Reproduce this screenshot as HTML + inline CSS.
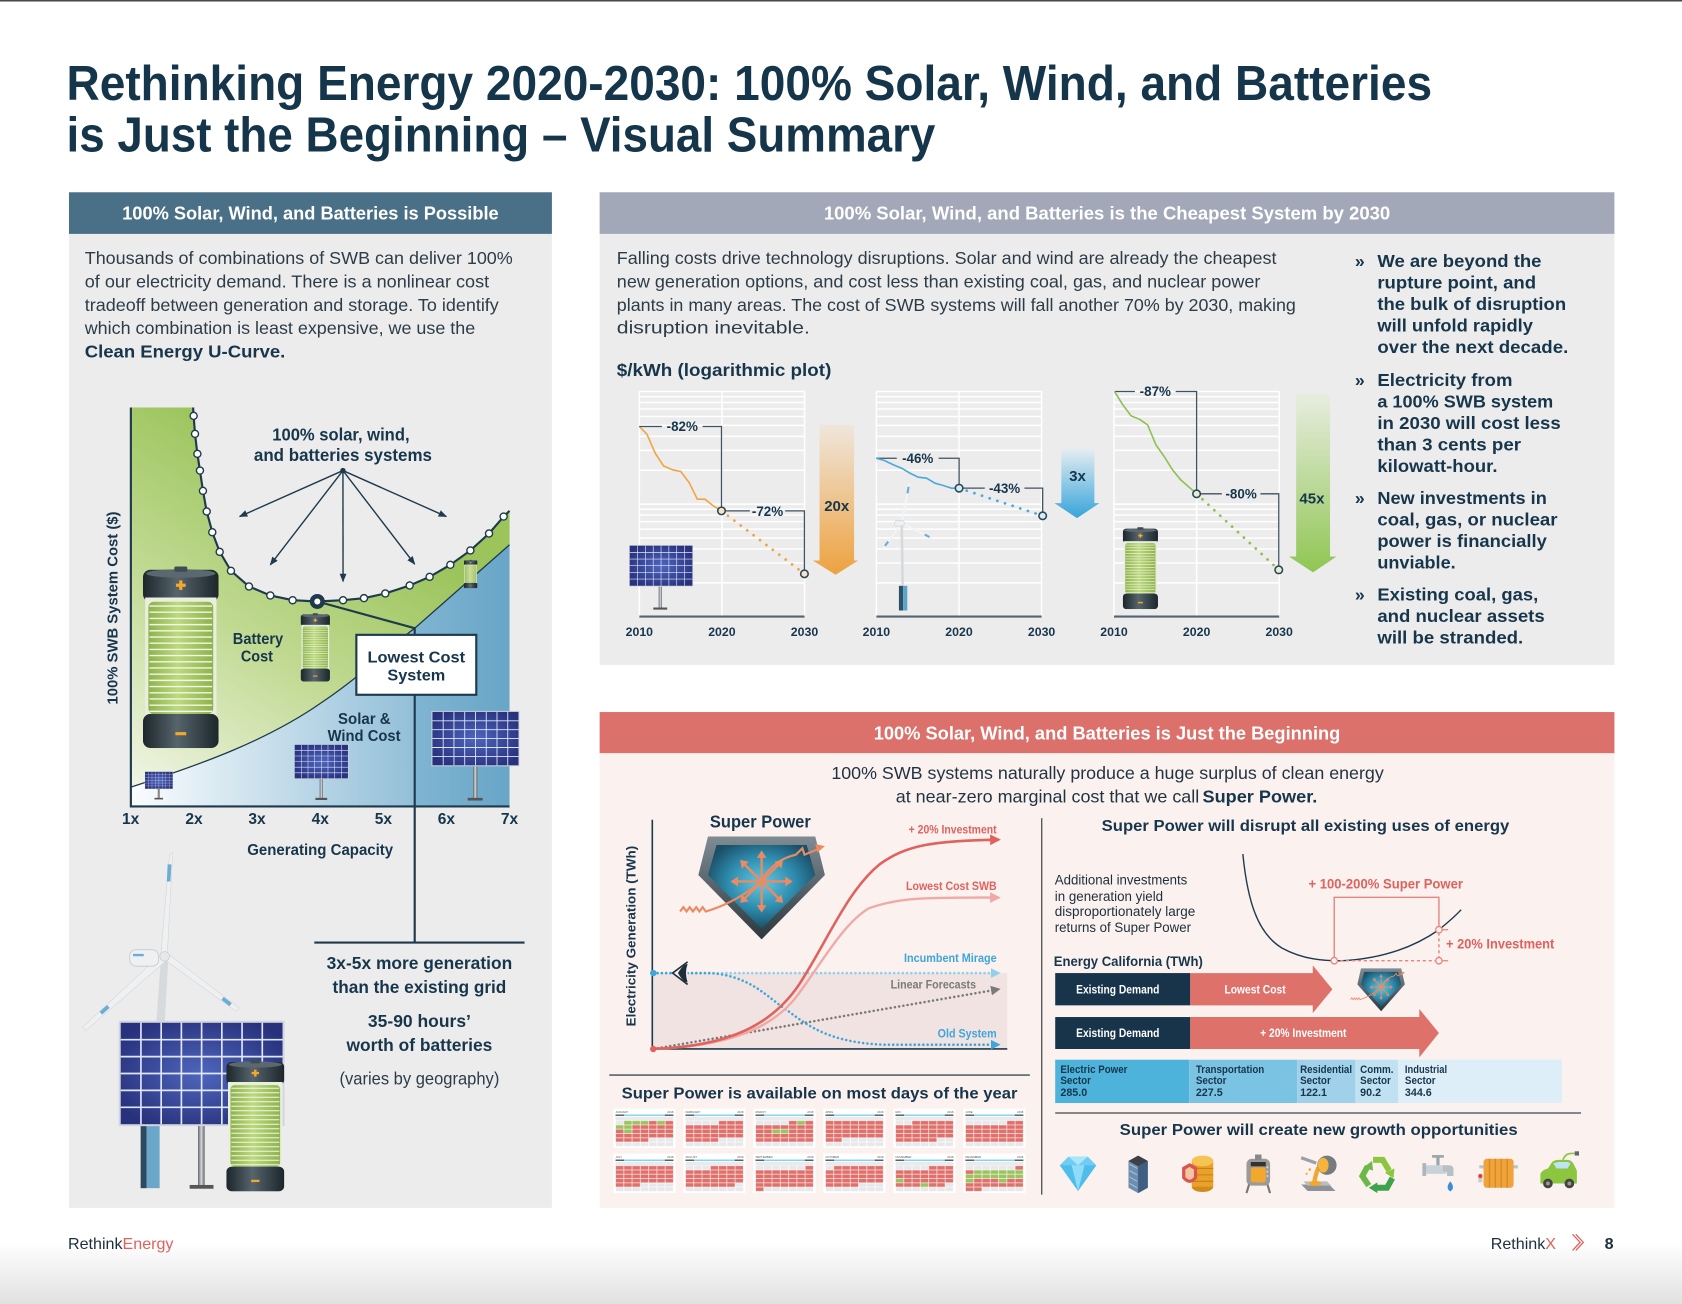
<!DOCTYPE html>
<html><head><meta charset="utf-8">
<style>
html,body{margin:0;padding:0;background:#fff;}
svg{display:block;}
text{font-family:"Liberation Sans",Arial,sans-serif;}
</style></head><body>
<svg width="1682" height="1304" viewBox="0 0 1568 1216" preserveAspectRatio="none" xmlns="http://www.w3.org/2000/svg" xmlns:xlink="http://www.w3.org/1999/xlink">
<defs>
<linearGradient id="footG" x1="0" y1="0" x2="0" y2="1"><stop offset="0" stop-color="#ffffff"/><stop offset="1" stop-color="#e1e1e1"/></linearGradient>
<linearGradient id="greenG" gradientUnits="userSpaceOnUse" x1="150" y1="752" x2="330" y2="470"><stop offset="0" stop-color="#f1f5e6"/><stop offset="0.5" stop-color="#c3db96"/><stop offset="1" stop-color="#9bc45b"/></linearGradient>
<linearGradient id="blueL" gradientUnits="userSpaceOnUse" x1="122" y1="0" x2="387" y2="0"><stop offset="0" stop-color="#fbfdfe"/><stop offset="1" stop-color="#92bfd8"/></linearGradient>
<linearGradient id="blueR" gradientUnits="userSpaceOnUse" x1="387" y1="0" x2="475" y2="0"><stop offset="0" stop-color="#80b5d2"/><stop offset="1" stop-color="#68a5c7"/></linearGradient>
<linearGradient id="capG" x1="0" y1="0" x2="1" y2="0"><stop offset="0" stop-color="#1c262b"/><stop offset="0.45" stop-color="#56646c"/><stop offset="1" stop-color="#1c262b"/></linearGradient>
<linearGradient id="batG" x1="0" y1="0" x2="1" y2="0"><stop offset="0" stop-color="#8db24c"/><stop offset="0.45" stop-color="#bcd97e"/><stop offset="1" stop-color="#8db24c"/></linearGradient>
<radialGradient id="panG" cx="0.5" cy="0.5" r="0.6"><stop offset="0" stop-color="#4f66bd"/><stop offset="1" stop-color="#28317c"/></radialGradient>
<linearGradient id="poleG" x1="0" y1="0" x2="1" y2="0"><stop offset="0" stop-color="#5d6266"/><stop offset="0.5" stop-color="#d5d8da"/><stop offset="1" stop-color="#5d6266"/></linearGradient>
<linearGradient id="aoG" x1="0" y1="0" x2="0" y2="1"><stop offset="0" stop-color="#efe6dc"/><stop offset="1" stop-color="#eda240"/></linearGradient>
<linearGradient id="abG" x1="0" y1="0" x2="0" y2="1"><stop offset="0" stop-color="#e6eef2"/><stop offset="1" stop-color="#36a4da"/></linearGradient>
<linearGradient id="agG" x1="0" y1="0" x2="0" y2="1"><stop offset="0" stop-color="#e8ede0"/><stop offset="1" stop-color="#90c653"/></linearGradient>
<linearGradient id="shG" x1="0" y1="0" x2="0" y2="1"><stop offset="0" stop-color="#7f8c94"/><stop offset="1" stop-color="#2c383e"/></linearGradient>
<radialGradient id="shI" cx="0.5" cy="0.45" r="0.55"><stop offset="0" stop-color="#66c8e2"/><stop offset="0.55" stop-color="#2f8eb0"/><stop offset="1" stop-color="#1a4f68"/></radialGradient>

<marker id="ah" viewBox="0 0 10 10" refX="9" refY="5" markerWidth="8" markerHeight="8" markerUnits="userSpaceOnUse" orient="auto"><path d="M0,1 L10,5 L0,9 Z" fill="#1e3a4c"/></marker>
<marker id="mR" viewBox="0 0 10 10" refX="8" refY="5" markerWidth="10" markerHeight="10" markerUnits="userSpaceOnUse" orient="auto"><path d="M0,0 L10,5 L0,10 Z" fill="#e0625c"/></marker>
<marker id="mL" viewBox="0 0 10 10" refX="8" refY="5" markerWidth="10" markerHeight="10" markerUnits="userSpaceOnUse" orient="auto"><path d="M0,0 L10,5 L0,10 Z" fill="#f0aaa5"/></marker>
<marker id="mB" viewBox="0 0 10 10" refX="8" refY="5" markerWidth="9" markerHeight="9" markerUnits="userSpaceOnUse" orient="auto"><path d="M0,0 L10,5 L0,10 Z" fill="#8fd1ec"/></marker>
<marker id="mD" viewBox="0 0 10 10" refX="8" refY="5" markerWidth="9" markerHeight="9" markerUnits="userSpaceOnUse" orient="auto"><path d="M0,0 L10,5 L0,10 Z" fill="#3ea6db"/></marker>
<marker id="mG" viewBox="0 0 10 10" refX="8" refY="5" markerWidth="9" markerHeight="9" markerUnits="userSpaceOnUse" orient="auto"><path d="M0,0 L10,5 L0,10 Z" fill="#7a7a7a"/></marker>

<symbol id="bat" viewBox="0 0 70 170" preserveAspectRatio="none">
<rect x="0" y="3" width="70" height="30" rx="7" fill="url(#capG)"/>
<ellipse cx="35" cy="6.5" rx="32" ry="4" fill="#5b6870"/>
<rect x="29" y="0" width="12" height="5" rx="1.5" fill="#404c53"/>
<rect x="2" y="29" width="66" height="113" fill="#e9efdf"/>
<rect x="5" y="33" width="60" height="105" rx="5" fill="url(#batG)"/>
<path d="M6 37h58M6 42.8h58M6 48.6h58M6 54.4h58M6 60.2h58M6 66h58M6 71.8h58M6 77.6h58M6 83.4h58M6 89.2h58M6 95h58M6 100.8h58M6 106.6h58M6 112.4h58M6 118.2h58M6 124h58M6 129.8h58M6 135.6h58" stroke="#f1f6e6" stroke-width="1.3"/>
<rect x="0" y="138" width="70" height="32" rx="7" fill="url(#capG)"/>
<path d="M35,13v9M30.5,17.5h9" stroke="#f3a72d" stroke-width="3"/>
<rect x="30" y="155" width="10" height="3" fill="#f3a72d"/>
</symbol>

<symbol id="pan" viewBox="0 0 160 100" preserveAspectRatio="none">
<rect x="0" y="0" width="160" height="100" fill="#d3d6de"/>
<rect x="2" y="2" width="156" height="96" fill="url(#panG)"/>
<path d="M21.5 2V98M41 2V98M60.5 2V98M80 2V98M99.5 2V98M119 2V98M138.5 2V98M2 18H158M2 34H158M2 50H158M2 66H158M2 82H158" stroke="#dfe6ff" stroke-width="1.6"/>
</symbol>

<symbol id="shield" viewBox="0 0 120 96" preserveAspectRatio="none" style="overflow:visible">
<polygon points="10,0 110,0 119,36 60,96 1,36" fill="url(#shG)"/>
<polygon points="18,8 102,8 110,36 60,86 10,36" fill="url(#shI)"/>
<path d="M60,42 V18 M60,42 V66 M60,42 H36 M60,42 H84 M60,42 L43,25 M60,42 L77,25 M60,42 L43,59 M60,42 L77,59" stroke="#ec8a62" stroke-width="2.2" fill="none"/>
<g fill="#ec8a62">
<polygon points="60,13 55.5,20 64.5,20"/><polygon points="60,71 55.5,64 64.5,64"/>
<polygon points="31,42 38,37.5 38,46.5"/><polygon points="89,42 82,37.5 82,46.5"/>
<polygon points="40,22 48,23.5 41.5,30"/><polygon points="80,22 72,23.5 78.5,30"/>
<polygon points="40,62 41.5,54 48,60.5"/><polygon points="80,62 78.5,54 72,60.5"/>
</g>
<path d="M-16,70 l3,-4 l3,4 l3,-4 l3,4 l3,-4 l3,4 l3,-4 l3,4 Q35,62 60,42" stroke="#ec8a62" stroke-width="2" fill="none"/>
<path d="M60,42 Q70,22 92,17 L98,11 L100,17 L112,12" stroke="#ec8a62" stroke-width="2" fill="none"/>
<polygon points="119,9 110,7 112,15" fill="#ec8a62"/>
</symbol>

<path id="gl" d="M0 365.1h154M0 369.9h154M0 375.3h154M0 381.4h154M0 388.4h154M0 396.7h154M0 406.9h154M0 420h154M0 438.5h154M0 470.1h154M0 474.9h154M0 480.3h154M0 486.4h154M0 493.4h154M0 501.7h154M0 511.9h154M0 525h154M0 543.5h154M0 365V575M77 365V575M154 365V575" stroke="#ffffff" stroke-width="1.4" fill="none"/>

<pattern id="pR" x="2" y="11.2" width="7.714" height="4" patternUnits="userSpaceOnUse"><rect width="7.714" height="4" fill="#f6e3e1"/><rect x="0.35" y="0.35" width="7.0" height="3.3" fill="#e0706b"/></pattern>
<pattern id="pG" x="2" y="11.2" width="7.714" height="4" patternUnits="userSpaceOnUse"><rect width="7.714" height="4" fill="#ffffff"/><rect x="0.35" y="0.35" width="7.0" height="3.3" fill="#e6e8eb"/></pattern>
<pattern id="pV" x="2" y="11.2" width="7.714" height="4" patternUnits="userSpaceOnUse"><rect width="7.714" height="4" fill="#eef5e3"/><rect x="0.35" y="0.35" width="7.0" height="3.3" fill="#9cc45e"/></pattern>
<g id="calBase">
<rect width="58" height="36.7" fill="#ffffff"/>
<rect x="2" y="5.6" width="54" height="1" fill="#5bc3ea"/><rect x="2" y="5.6" width="8" height="1" fill="#333"/><rect x="48" y="5.6" width="8" height="1" fill="#333"/>
<rect x="2" y="7.6" width="54" height="3.4" fill="#e8eaed"/>
<rect x="2" y="11.2" width="54" height="24" fill="url(#pR)"/>
<text x="56" y="4" font-size="2.6" text-anchor="end" fill="#555">2018</text>
</g>
</defs>

<!-- page background -->
<rect x="0" y="0" width="1568" height="1216" fill="#ffffff"/>
<rect x="0" y="1158" width="1568" height="58" fill="url(#footG)"/>
<rect x="0" y="0" width="1568" height="1.4" fill="#474747"/>

<!-- Title -->
<text x="62" y="93.2" font-size="46" font-weight="bold" fill="#15354b" textLength="1273" lengthAdjust="spacingAndGlyphs">Rethinking Energy 2020-2030: 100% Solar, Wind, and Batteries</text>
<text x="62" y="141.4" font-size="46" font-weight="bold" fill="#15354b" textLength="810" lengthAdjust="spacingAndGlyphs">is Just the Beginning – Visual Summary</text>

<!-- ================= LEFT PANEL ================= -->
<rect x="64.3" y="179.3" width="450.2" height="947.1" fill="#ececec"/>
<rect x="64.3" y="179.3" width="450.2" height="38.8" fill="#4a7087"/>
<text x="289.4" y="204.5" font-size="17" font-weight="bold" fill="#ffffff" text-anchor="middle" textLength="351" lengthAdjust="spacingAndGlyphs">100% Solar, Wind, and Batteries is Possible</text>
<g font-size="16.5" fill="#2c3c48">
<text x="79" y="246.3" textLength="399" lengthAdjust="spacingAndGlyphs">Thousands of combinations of SWB can deliver 100%</text>
<text x="79" y="268" textLength="377" lengthAdjust="spacingAndGlyphs">of our electricity demand. There is a nonlinear cost</text>
<text x="79" y="289.8" textLength="386" lengthAdjust="spacingAndGlyphs">tradeoff between generation and storage. To identify</text>
<text x="79" y="311.5" textLength="364" lengthAdjust="spacingAndGlyphs">which combination is least expensive, we use the</text>
<text x="79" y="333.3" font-weight="bold" fill="#17364c" textLength="187" lengthAdjust="spacingAndGlyphs">Clean Energy U-Curve.</text>
</g>

<!-- U-curve chart -->
<polygon points="122,380 180,380 180.5,387.8 181.8,404.6 184,423.2 186.4,438.8 189.2,457.7 192.7,477 197.9,496.3 204.8,514.6 215.3,532.3 232.1,546.9 252,555.3 272.8,559.7 295.8,560.9 319.8,559.7 339.3,557.8 359.2,553.4 381.9,546 400.5,537.9 419.8,526.7 438.5,513.3 455.9,497.5 469.5,481.7 475,476.4 475,752 122,752" fill="url(#greenG)"/>
<clipPath id="bclip"><path d="M122,734 C190,712 250,690 300,655 C340,628 360,606 386.6,585.8 L475,508 L475,752 L122,752 Z"/></clipPath>
<g clip-path="url(#bclip)">
<rect x="122" y="500" width="264.6" height="252" fill="url(#blueL)"/>
<rect x="386.6" y="500" width="88.4" height="252" fill="url(#blueR)"/>
</g>
<path d="M122,734 C190,712 250,690 300,655 C340,628 360,606 386.6,585.8 L475,508" fill="none" stroke="#1e3a4c" stroke-width="1.2"/>
<polyline points="180,380 180.5,387.8 181.8,404.6 184,423.2 186.4,438.8 189.2,457.7 192.7,477 197.9,496.3 204.8,514.6 215.3,532.3 232.1,546.9 252,555.3 272.8,559.7 295.8,560.9 319.8,559.7 339.3,557.8 359.2,553.4 381.9,546 400.5,537.9 419.8,526.7 438.5,513.3 455.9,497.5 469.5,481.7 475,476.4" fill="none" stroke="#1e3a4c" stroke-width="2"/>
<g fill="#ffffff" stroke="#1e3a4c" stroke-width="1.3">
<circle cx="180.5" cy="387.8" r="3.3"/><circle cx="181.8" cy="404.6" r="3.3"/><circle cx="184" cy="423.2" r="3.3"/><circle cx="186.4" cy="438.8" r="3.3"/><circle cx="189.2" cy="457.7" r="3.3"/><circle cx="192.7" cy="477" r="3.3"/><circle cx="197.9" cy="496.3" r="3.3"/><circle cx="204.8" cy="514.6" r="3.3"/><circle cx="215.3" cy="532.3" r="3.3"/><circle cx="232.1" cy="546.9" r="3.3"/><circle cx="252" cy="555.3" r="3.3"/><circle cx="272.8" cy="559.7" r="3.3"/><circle cx="319.8" cy="559.7" r="3.3"/><circle cx="339.3" cy="557.8" r="3.3"/><circle cx="359.2" cy="553.4" r="3.3"/><circle cx="381.9" cy="546" r="3.3"/><circle cx="400.5" cy="537.9" r="3.3"/><circle cx="419.8" cy="526.7" r="3.3"/><circle cx="438.5" cy="513.3" r="3.3"/><circle cx="455.9" cy="497.5" r="3.3"/><circle cx="469.5" cy="481.7" r="3.3"/>
</g>
<!-- panels & batteries in chart -->
<rect x="147" y="735" width="2" height="10" fill="#888"/><rect x="144" y="744" width="8" height="1.5" fill="#555"/>
<use href="#pan" xlink:href="#pan" x="134.9" y="719.4" width="26.4" height="16.4"/>
<rect x="298" y="726" width="3" height="19" fill="url(#poleG)"/><rect x="294" y="744" width="11" height="2" fill="#555"/>
<use href="#pan" xlink:href="#pan" x="274.1" y="693.9" width="50.9" height="32.6"/>
<rect x="441" y="714" width="4" height="31" fill="url(#poleG)"/><rect x="436" y="744" width="14" height="2.5" fill="#555"/>
<use href="#pan" xlink:href="#pan" x="402.1" y="662.8" width="82.3" height="51.9"/>
<use href="#bat" xlink:href="#bat" x="133.3" y="528.3" width="70.5" height="169.3"/>
<use href="#bat" xlink:href="#bat" x="280.3" y="571.8" width="27.3" height="63.7"/>
<use href="#bat" xlink:href="#bat" x="432.5" y="522" width="12.5" height="26.5"/>
<!-- axes -->
<path d="M122,380 V752 H475" fill="none" stroke="#1e3a4c" stroke-width="2"/>
<!-- lowest cost connector -->
<path d="M295.8,560.9 L386.6,585.8 V879" fill="none" stroke="#1e3a4c" stroke-width="2"/>
<path d="M293,879 H489" stroke="#1e3a4c" stroke-width="2"/>
<circle cx="295.8" cy="560.9" r="7" fill="#1e3a4c"/><circle cx="295.8" cy="560.9" r="2.8" fill="#ffffff"/>
<rect x="332.2" y="592" width="111.8" height="55.9" fill="#ffffff" stroke="#1e3a4c" stroke-width="2"/>
<g font-weight="bold" fill="#17364c" text-anchor="middle">
<text x="388.1" y="618" font-size="15" textLength="91" lengthAdjust="spacingAndGlyphs">Lowest Cost</text>
<text x="388.1" y="634.5" font-size="15" textLength="54" lengthAdjust="spacingAndGlyphs">System</text>
<text x="240.5" y="600.5" font-size="15" textLength="47" lengthAdjust="spacingAndGlyphs">Battery</text>
<text x="239.5" y="617" font-size="15" textLength="30" lengthAdjust="spacingAndGlyphs">Cost</text>
<text x="339.6" y="675" font-size="15" textLength="49" lengthAdjust="spacingAndGlyphs">Solar &amp;</text>
<text x="339.4" y="691" font-size="15" textLength="68" lengthAdjust="spacingAndGlyphs">Wind Cost</text>
<text x="317.8" y="411" font-size="16" textLength="128" lengthAdjust="spacingAndGlyphs">100% solar, wind,</text>
<text x="319.7" y="430" font-size="16" textLength="166" lengthAdjust="spacingAndGlyphs">and batteries systems</text>
</g>
<g stroke="#1e3a4c" stroke-width="1.3" marker-end="url(#ah)">
<line x1="319.7" y1="438.8" x2="223.4" y2="481.7"/>
<line x1="319.7" y1="438.8" x2="252" y2="526.7"/>
<line x1="319.7" y1="438.8" x2="319.8" y2="542.2"/>
<line x1="319.7" y1="438.8" x2="386.6" y2="526.1"/>
<line x1="319.7" y1="438.8" x2="416.1" y2="481.7"/>
</g>
<circle cx="319.7" cy="438.8" r="2.5" fill="#1e3a4c"/>
<g font-size="14.5" font-weight="bold" fill="#17364c" text-anchor="middle">
<text x="121.8" y="768.5">1x</text><text x="180.9" y="768.5">2x</text><text x="239.6" y="768.5">3x</text><text x="298.6" y="768.5">4x</text><text x="357.4" y="768.5">5x</text><text x="416.1" y="768.5">6x</text><text x="475" y="768.5">7x</text>
<text x="298.5" y="797.5" textLength="136" lengthAdjust="spacingAndGlyphs">Generating Capacity</text>
<text transform="translate(109.7,567) rotate(-90)" x="0" y="0" font-size="14" textLength="180" lengthAdjust="spacingAndGlyphs">100% SWB System Cost ($)</text>
</g>

<!-- bottom-left illustration -->
<polygon points="150,893 157,893 148,1050 139,1050" fill="#d6dadd"/>
<polygon points="150,889 156,890 161,795 158,797" fill="#eef0f1" stroke="#d0d4d7" stroke-width="0.5"/>
<polygon points="156.3,806 159.8,806 158.9,822 155.5,822" fill="#6aaed6"/>
<polygon points="151,889 156,895 80,961 77,958" fill="#eef0f1" stroke="#d0d4d7" stroke-width="0.5"/>
<line x1="101" y1="938.5" x2="94" y2="944.8" stroke="#6aaed6" stroke-width="3.5"/>
<polygon points="152,894 156,889 223,940 220,943" fill="#eef0f1" stroke="#d0d4d7" stroke-width="0.5"/>
<line x1="207.5" y1="931" x2="215" y2="936.8" stroke="#6aaed6" stroke-width="3.5"/>
<rect x="120.9" y="885.6" width="27" height="15.4" rx="6" fill="#eef0f2" stroke="#c5cbd0" stroke-width="0.8"/>
<rect x="124" y="889.5" width="10" height="2.2" fill="#6aaed6"/>
<circle cx="153.5" cy="891.8" r="4.5" fill="#e6e8ea" stroke="#c5cbd0" stroke-width="0.6"/>
<rect x="131.1" y="1050" width="5.5" height="58" fill="#2e4a5e"/><rect x="136.6" y="1050" width="12.2" height="58" fill="#6ba7c9"/>
<rect x="184.6" y="1050" width="6.2" height="56" fill="url(#poleG)"/><rect x="176.8" y="1105" width="22.2" height="3.5" fill="#555"/>
<use href="#pan" xlink:href="#pan" x="110.6" y="951.8" width="154.7" height="98.5"/>
<use href="#bat" xlink:href="#bat" x="211" y="988" width="54" height="123"/>
<g font-weight="bold" fill="#17364c" text-anchor="middle" font-size="16.5">
<text x="391" y="903.5" textLength="173" lengthAdjust="spacingAndGlyphs">3x-5x more generation</text>
<text x="391" y="926" textLength="162" lengthAdjust="spacingAndGlyphs">than the existing grid</text>
<text x="391" y="957.5" textLength="96" lengthAdjust="spacingAndGlyphs">35-90 hours’</text>
<text x="391" y="980" textLength="136" lengthAdjust="spacingAndGlyphs">worth of batteries</text>
<text x="391" y="1011.5" font-weight="normal" fill="#2c3c48" textLength="149" lengthAdjust="spacingAndGlyphs">(varies by geography)</text>
</g>

<!-- ================= RIGHT TOP PANEL ================= -->
<rect x="559" y="179.3" width="946" height="440.7" fill="#ececec"/>
<rect x="559" y="179.3" width="946" height="38.8" fill="#a3a8b9"/>
<text x="1032" y="204.5" font-size="17" font-weight="bold" fill="#ffffff" text-anchor="middle" textLength="528" lengthAdjust="spacingAndGlyphs">100% Solar, Wind, and Batteries is the Cheapest System by 2030</text>
<g font-size="16.5" fill="#2c3c48">
<text x="575" y="246.3" textLength="615" lengthAdjust="spacingAndGlyphs">Falling costs drive technology disruptions. Solar and wind are already the cheapest</text>
<text x="575" y="268" textLength="600" lengthAdjust="spacingAndGlyphs">new generation options, and cost less than existing coal, gas, and nuclear power</text>
<text x="575" y="289.8" textLength="633" lengthAdjust="spacingAndGlyphs">plants in many areas. The cost of SWB systems will fall another 70% by 2030, making</text>
<text x="575" y="311" textLength="180" lengthAdjust="spacingAndGlyphs">disruption inevitable.</text>
</g>
<text x="575" y="350.5" font-size="16.5" font-weight="bold" fill="#17364c" textLength="200" lengthAdjust="spacingAndGlyphs">$/kWh (logarithmic plot)</text>

<g font-size="16.5" font-weight="bold" fill="#17364c">
<text x="1263" y="249">»</text><text x="1263" y="360">»</text><text x="1263" y="470">»</text><text x="1263" y="560">»</text>
<text x="1284" y="249" textLength="153" lengthAdjust="spacingAndGlyphs">We are beyond the</text>
<text x="1284" y="269" textLength="148" lengthAdjust="spacingAndGlyphs">rupture point, and</text>
<text x="1284" y="289" textLength="176" lengthAdjust="spacingAndGlyphs">the bulk of disruption</text>
<text x="1284" y="309" textLength="145" lengthAdjust="spacingAndGlyphs">will unfold rapidly</text>
<text x="1284" y="329" textLength="178" lengthAdjust="spacingAndGlyphs">over the next decade.</text>
<text x="1284" y="360" textLength="126" lengthAdjust="spacingAndGlyphs">Electricity from</text>
<text x="1284" y="380" textLength="164" lengthAdjust="spacingAndGlyphs">a 100% SWB system</text>
<text x="1284" y="400" textLength="171" lengthAdjust="spacingAndGlyphs">in 2030 will cost less</text>
<text x="1284" y="420" textLength="134" lengthAdjust="spacingAndGlyphs">than 3 cents per</text>
<text x="1284" y="440" textLength="112" lengthAdjust="spacingAndGlyphs">kilowatt-hour.</text>
<text x="1284" y="470" textLength="158" lengthAdjust="spacingAndGlyphs">New investments in</text>
<text x="1284" y="490" textLength="168" lengthAdjust="spacingAndGlyphs">coal, gas, or nuclear</text>
<text x="1284" y="510" textLength="158" lengthAdjust="spacingAndGlyphs">power is financially</text>
<text x="1284" y="530" textLength="73" lengthAdjust="spacingAndGlyphs">unviable.</text>
<text x="1284" y="560" textLength="150" lengthAdjust="spacingAndGlyphs">Existing coal, gas,</text>
<text x="1284" y="580" textLength="156" lengthAdjust="spacingAndGlyphs">and nuclear assets</text>
<text x="1284" y="600" textLength="136" lengthAdjust="spacingAndGlyphs">will be stranded.</text>
</g>

<!-- mini chart grids -->
<use href="#gl" xlink:href="#gl" x="596"/>
<use href="#gl" xlink:href="#gl" x="817"/>
<use href="#gl" xlink:href="#gl" x="1038.5"/>
<g stroke="#55656f" stroke-width="2">
<line x1="596" y1="575" x2="750" y2="575"/><line x1="817" y1="575" x2="971" y2="575"/><line x1="1038.5" y1="575" x2="1192.5" y2="575"/>
</g>
<g font-size="11.5" font-weight="bold" fill="#17364c" text-anchor="middle">
<text x="596" y="593">2010</text><text x="673" y="593">2020</text><text x="750" y="593">2030</text>
<text x="817" y="593">2010</text><text x="894" y="593">2020</text><text x="971" y="593">2030</text>
<text x="1038.5" y="593">2010</text><text x="1115.5" y="593">2020</text><text x="1192.5" y="593">2030</text>
</g>
<!-- icons in mini charts -->
<rect x="614" y="547" width="3" height="21" fill="url(#poleG)"/><rect x="609" y="566.5" width="13" height="2" fill="#555"/>
<use href="#pan" xlink:href="#pan" x="586.3" y="508.1" width="59.9" height="38.9"/>
<line x1="840.6" y1="488" x2="841.5" y2="546.3" stroke="#d6dadd" stroke-width="2.5"/>
<g stroke="#f2f4f5" stroke-width="2">
<line x1="840.6" y1="487.9" x2="847.7" y2="450.6"/><line x1="840.6" y1="487.9" x2="823.3" y2="511.2"/><line x1="840.6" y1="487.9" x2="868.3" y2="501.8"/>
</g>
<line x1="846" y1="460" x2="847" y2="454" stroke="#6aaed6" stroke-width="2"/>
<line x1="828" y1="505" x2="825" y2="509" stroke="#6aaed6" stroke-width="2"/>
<line x1="862" y1="498.5" x2="866.5" y2="500.8" stroke="#6aaed6" stroke-width="2"/>
<rect x="834" y="485.5" width="9" height="5" rx="2" fill="#eef0f2" stroke="#c5cbd0" stroke-width="0.5"/>
<rect x="838" y="546.3" width="3.9" height="23" fill="#2b5068"/><rect x="841.9" y="546.3" width="3.9" height="23" fill="#5ea4ca"/>
<use href="#bat" xlink:href="#bat" x="1046.7" y="491.6" width="32.8" height="76.4"/>

<!-- chart 1 -->
<polyline points="596,397.7 603.1,404.9 610.8,422.6 618.5,434.4 626.9,438.1 634.6,439.7 642.4,450 650.1,465.5 657.2,465.5 664.9,471.7 672.6,476.4" fill="none" stroke="#f0a544" stroke-width="1.5"/>
<line x1="672.6" y1="476.4" x2="749.9" y2="535.1" stroke="#f0a544" stroke-width="2.6" stroke-dasharray="0.01 7.5" stroke-linecap="round"/>
<g stroke="#3f5260" stroke-width="1.2" fill="none">
<path d="M596,397.7 H617 M655,397.7 H672.6 V472.9"/>
<path d="M676,476.4 H699 M732,476.4 H749.9 V531.6"/>
<path d="M816.8,427.3 H836 M875,427.3 H894.1 V451.7"/>
<path d="M897.6,455.2 H918 M955,455.2 H972 V477.5"/>
<path d="M1039,365.1 H1058 M1096,365.1 H1115.5 V457"/>
<path d="M1119,460.5 H1139 M1175,460.5 H1192.1 V527.9"/>
</g>
<!-- chart 2 -->
<polyline points="816.8,427.3 824.5,429.4 832.9,433.5 840.6,436.6 848.4,441.3 856.1,445 863.8,445.9 871.6,450.6 879.3,452.7 887,455.2 894.1,455.2" fill="none" stroke="#4aa9dc" stroke-width="1.5"/>
<line x1="894.1" y1="455.2" x2="972" y2="481" stroke="#4aa9dc" stroke-width="2.6" stroke-dasharray="0.01 7.5" stroke-linecap="round"/>
<!-- chart 3 -->
<polyline points="1039,365.1 1046.7,377.5 1054.4,387.8 1062.1,390.9 1069.8,396.2 1077.6,414.8 1085.3,425.7 1093,438.1 1100.7,447.5 1108.5,454.3 1115.5,460.5" fill="none" stroke="#8cc152" stroke-width="1.5"/>
<line x1="1115.5" y1="460.5" x2="1192.1" y2="531.4" stroke="#8cc152" stroke-width="2.6" stroke-dasharray="0.01 7.5" stroke-linecap="round"/>
<g stroke="#2f4858" stroke-width="1.5">
<circle cx="672.6" cy="476.4" r="3.5" fill="#f6e4c9"/><circle cx="749.9" cy="535.1" r="3.5" fill="#f6e4c9"/>
<circle cx="894.1" cy="455.2" r="3.5" fill="#d6ecf8"/><circle cx="972" cy="481" r="3.5" fill="#d6ecf8"/>
<circle cx="1115.5" cy="460.5" r="3.5" fill="#e3f0d3"/><circle cx="1192.1" cy="531.4" r="3.5" fill="#e3f0d3"/>
</g>
<g font-size="12.5" font-weight="bold" fill="#17364c" text-anchor="middle">
<text x="636" y="402">-82%</text><text x="715.5" y="481">-72%</text>
<text x="855.5" y="431.7">-46%</text><text x="936.5" y="459.6">-43%</text>
<text x="1077" y="369.5">-87%</text><text x="1157" y="465">-80%</text>
</g>
<!-- arrows -->
<path d="M764,396.2 H796.2 V522.7 H800 L779,536 L757.7,522.7 H764 Z" fill="url(#aoG)"/>
<path d="M989.4,418 H1020.2 V469.2 H1025 L1004,483.2 L983,469.2 H989.4 Z" fill="url(#abG)"/>
<path d="M1208.3,366.7 H1239.9 V519 H1246 L1224,533.8 L1201.5,519 H1208.3 Z" fill="url(#agG)"/>
<g font-size="14" font-weight="bold" fill="#17364c" text-anchor="middle">
<text x="780" y="476.5">20x</text><text x="1004.5" y="448.5">3x</text><text x="1223" y="469.5">45x</text>
</g>

<!-- ================= BOTTOM RIGHT PANEL ================= -->
<rect x="559" y="664" width="946" height="462.4" fill="#fbf1ef"/>
<rect x="559" y="664" width="946" height="38.3" fill="#dc706a"/>
<text x="1032" y="689.5" font-size="17" font-weight="bold" fill="#ffffff" text-anchor="middle" textLength="435" lengthAdjust="spacingAndGlyphs">100% Solar, Wind, and Batteries is Just the Beginning</text>
<text x="775" y="726.5" font-size="16.5" fill="#1f3342" textLength="515" lengthAdjust="spacingAndGlyphs">100% SWB systems naturally produce a huge surplus of clean energy</text>
<text x="835" y="748.5" font-size="16.5" fill="#1f3342" textLength="283" lengthAdjust="spacingAndGlyphs">at near-zero marginal cost that we call</text>
<text x="1121" y="748.5" font-size="16.5" font-weight="bold" fill="#17364c" textLength="107" lengthAdjust="spacingAndGlyphs">Super Power.</text>

<!-- left sub chart -->
<rect x="609" y="907.4" width="330" height="70.8" fill="#f0e3e1"/>
<path d="M608.1,764.4 V978.2 H939" fill="none" stroke="#1e3a4c" stroke-width="1.5"/>
<text x="708.8" y="771.5" font-size="16" font-weight="bold" fill="#17364c" text-anchor="middle" textLength="94" lengthAdjust="spacingAndGlyphs">Super Power</text>
<use href="#shield" xlink:href="#shield" x="650" y="780" width="120" height="96"/>
<line x1="609" y1="978.2" x2="931" y2="922.5" stroke="#7a7a7a" stroke-width="2.4" stroke-dasharray="0.01 4" stroke-linecap="round" marker-end="url(#mG)"/>
<line x1="609" y1="907.4" x2="931" y2="907.4" stroke="#8fd1ec" stroke-width="2.4" stroke-dasharray="0.01 4" stroke-linecap="round" marker-end="url(#mB)"/>
<path d="M609,907.4 L662,907.4 C700,910 715,930 735,943 C755,958 775,972 823,974.2 L931,974.2" fill="none" stroke="#3ea6db" stroke-width="2.4" stroke-dasharray="0.01 4" stroke-linecap="round" marker-end="url(#mD)"/>
<path d="M609,978 C680,976 720,958 742,930 C765,900 785,862 810,847 C840,836 870,837 931,837" fill="none" stroke="#f0aaa5" stroke-width="2.2" marker-end="url(#mL)"/>
<path d="M609,978 C680,976 720,955 745,918 C770,880 790,830 820,806 C845,788 870,784 931,783" fill="none" stroke="#e0625c" stroke-width="2.4" marker-end="url(#mR)"/>
<circle cx="609" cy="907.4" r="3" fill="#3ea6db"/><circle cx="609" cy="978.2" r="3" fill="#e0625c"/>
<path d="M641,897 L627,907.4 L641,918" fill="#fbf1ef" stroke="#1e2f3b" stroke-width="1.5"/>
<path d="M632,907.4 Q637,899 641,899 Q638,907 641,916 Q637,916 632,907.4Z" fill="#1e2f3b"/>
<g font-size="11.5" font-weight="bold" text-anchor="end">
<text x="929.1" y="777.2" fill="#e0625c" textLength="82" lengthAdjust="spacingAndGlyphs">+ 20% Investment</text>
<text x="929.1" y="829.8" fill="#e0625c" textLength="84.5" lengthAdjust="spacingAndGlyphs">Lowest Cost SWB</text>
<text x="929.1" y="897" fill="#3ea6db" textLength="86.4" lengthAdjust="spacingAndGlyphs">Incumbent Mirage</text>
<text x="909.9" y="921.8" fill="#7a7a7a" textLength="79.6" lengthAdjust="spacingAndGlyphs">Linear Forecasts</text>
<text x="929.1" y="967.5" fill="#3ea6db" textLength="55" lengthAdjust="spacingAndGlyphs">Old System</text>
</g>
<text transform="translate(592.5,872.9) rotate(-90)" x="0" y="0" font-size="12" font-weight="bold" fill="#17364c" text-anchor="middle" textLength="168.4" lengthAdjust="spacingAndGlyphs">Electricity Generation (TWh)</text>

<line x1="568" y1="1002.5" x2="960" y2="1002.5" stroke="#3a4a55" stroke-width="1.2"/>
<text x="764" y="1024.5" font-size="15" font-weight="bold" fill="#17364c" text-anchor="middle" textLength="369" lengthAdjust="spacingAndGlyphs">Super Power is available on most days of the year</text>

<!-- calendars -->
<g transform="translate(571.8,1033.8)"><use href="#calBase" xlink:href="#calBase"/><text x="2" y="4" font-size="2.6" fill="#555">JANUARY</text>
<rect x="2" y="11.2" width="7.714" height="4" fill="url(#pG)"/><rect x="32.856" y="27.2" width="23.142" height="4" fill="url(#pG)"/><rect x="2" y="31.2" width="54" height="4" fill="url(#pG)"/>
<rect x="9.714" y="11.2" width="23.142" height="4" fill="url(#pV)"/><rect x="40.57" y="11.2" width="7.714" height="4" fill="url(#pV)"/><rect x="2" y="15.2" width="15.428" height="4" fill="url(#pV)"/><rect x="9.714" y="19.2" width="7.714" height="4" fill="url(#pV)"/></g>
<g transform="translate(637,1033.8)"><use href="#calBase" xlink:href="#calBase"/><text x="2" y="4" font-size="2.6" fill="#555">FEBRUARY</text>
<rect x="2" y="11.2" width="30.856" height="4" fill="url(#pG)"/><rect x="32.856" y="27.2" width="23.142" height="4" fill="url(#pG)"/><rect x="2" y="31.2" width="54" height="4" fill="url(#pG)"/></g>
<g transform="translate(702.3,1033.8)"><use href="#calBase" xlink:href="#calBase"/><text x="2" y="4" font-size="2.6" fill="#555">MARCH</text>
<rect x="2" y="11.2" width="30.856" height="4" fill="url(#pG)"/><rect x="2" y="31.2" width="54" height="4" fill="url(#pG)"/>
<rect x="40.57" y="11.2" width="7.714" height="4" fill="url(#pV)"/><rect x="17.428" y="19.2" width="15.428" height="4" fill="url(#pV)"/></g>
<g transform="translate(767.5,1033.8)"><use href="#calBase" xlink:href="#calBase"/><text x="2" y="4" font-size="2.6" fill="#555">APRIL</text>
<rect x="17.428" y="27.2" width="38.57" height="4" fill="url(#pG)"/><rect x="2" y="31.2" width="54" height="4" fill="url(#pG)"/></g>
<g transform="translate(832.8,1033.8)"><use href="#calBase" xlink:href="#calBase"/><text x="2" y="4" font-size="2.6" fill="#555">MAY</text>
<rect x="2" y="11.2" width="15.428" height="4" fill="url(#pG)"/><rect x="40.57" y="27.2" width="15.428" height="4" fill="url(#pG)"/><rect x="2" y="31.2" width="54" height="4" fill="url(#pG)"/></g>
<g transform="translate(898,1033.8)"><use href="#calBase" xlink:href="#calBase"/><text x="2" y="4" font-size="2.6" fill="#555">JUNE</text>
<rect x="2" y="11.2" width="38.57" height="4" fill="url(#pG)"/><rect x="2" y="31.2" width="54" height="4" fill="url(#pG)"/></g>
<g transform="translate(571.8,1075.8)"><use href="#calBase" xlink:href="#calBase"/><text x="2" y="4" font-size="2.6" fill="#555">JULY</text>
<rect x="25.142" y="27.2" width="30.856" height="4" fill="url(#pG)"/><rect x="2" y="31.2" width="54" height="4" fill="url(#pG)"/></g>
<g transform="translate(637,1075.8)"><use href="#calBase" xlink:href="#calBase"/><text x="2" y="4" font-size="2.6" fill="#555">AUGUST</text>
<rect x="2" y="11.2" width="23.142" height="4" fill="url(#pG)"/><rect x="48.284" y="27.2" width="7.714" height="4" fill="url(#pG)"/><rect x="2" y="31.2" width="54" height="4" fill="url(#pG)"/></g>
<g transform="translate(702.3,1075.8)"><use href="#calBase" xlink:href="#calBase"/><text x="2" y="4" font-size="2.6" fill="#555">SEPTEMBER</text>
<rect x="2" y="11.2" width="46.284" height="4" fill="url(#pG)"/><rect x="9.714" y="31.2" width="46.284" height="4" fill="url(#pG)"/></g>
<g transform="translate(767.5,1075.8)"><use href="#calBase" xlink:href="#calBase"/><text x="2" y="4" font-size="2.6" fill="#555">OCTOBER</text>
<rect x="2" y="11.2" width="7.714" height="4" fill="url(#pG)"/><rect x="32.856" y="27.2" width="23.142" height="4" fill="url(#pG)"/><rect x="2" y="31.2" width="54" height="4" fill="url(#pG)"/></g>
<g transform="translate(832.8,1075.8)"><use href="#calBase" xlink:href="#calBase"/><text x="2" y="4" font-size="2.6" fill="#555">NOVEMBER</text>
<rect x="2" y="11.2" width="30.856" height="4" fill="url(#pG)"/><rect x="48.284" y="27.2" width="7.714" height="4" fill="url(#pG)"/><rect x="2" y="31.2" width="54" height="4" fill="url(#pG)"/>
<rect x="2" y="23.2" width="7.714" height="4" fill="url(#pV)"/><rect x="25.142" y="27.2" width="7.714" height="4" fill="url(#pV)"/></g>
<g transform="translate(898,1075.8)"><use href="#calBase" xlink:href="#calBase"/><text x="2" y="4" font-size="2.6" fill="#555">DECEMBER</text>
<rect x="2" y="11.2" width="46.284" height="4" fill="url(#pG)"/><rect x="17.428" y="31.2" width="38.57" height="4" fill="url(#pG)"/>
<rect x="9.714" y="15.2" width="46.284" height="4" fill="url(#pV)"/><rect x="2" y="19.2" width="54" height="4" fill="url(#pV)"/><rect x="2" y="23.2" width="7.714" height="4" fill="url(#pV)"/><rect x="32.856" y="23.2" width="7.714" height="4" fill="url(#pV)"/></g>

<!-- vertical divider -->
<line x1="971.1" y1="762.9" x2="971.1" y2="1114" stroke="#5a5a5a" stroke-width="1.3"/>

<!-- right sub -->
<text x="1217" y="775" font-size="15" font-weight="bold" fill="#17364c" text-anchor="middle" textLength="380" lengthAdjust="spacingAndGlyphs">Super Power will disrupt all existing uses of energy</text>
<g font-size="12.5" fill="#1e2f3b">
<text x="983.3" y="825" textLength="123.5" lengthAdjust="spacingAndGlyphs">Additional investments</text>
<text x="983.3" y="840" textLength="101" lengthAdjust="spacingAndGlyphs">in generation yield</text>
<text x="983.3" y="854.3" textLength="131" lengthAdjust="spacingAndGlyphs">disproportionately large</text>
<text x="983.3" y="869" textLength="127" lengthAdjust="spacingAndGlyphs">returns of Super Power</text>
</g>
<path d="M1158.6,796.4 C1163,840 1172,870 1195,884 C1215,895 1235,896 1250,896 C1290,894 1320,882 1341.4,867 C1350,860 1356,855 1362.1,848.3" fill="none" stroke="#1e3a4c" stroke-width="1.3"/>
<path d="M1243.8,895.9 V836.8 H1341.4 V867" fill="none" stroke="#e8837e" stroke-width="1.3"/>
<path d="M1243.8,895.9 H1341.4 V867" fill="none" stroke="#e8837e" stroke-width="1.3" stroke-dasharray="3 2.5"/>
<path d="M1344,867 H1350 M1344,895.9 H1350" stroke="#e8837e" stroke-width="1.2"/>
<g fill="#fbf1ef" stroke="#e8837e" stroke-width="1.2">
<circle cx="1243.8" cy="895.9" r="3"/><circle cx="1341.4" cy="867" r="3"/><circle cx="1341.4" cy="895.9" r="3"/>
</g>
<text x="1291.8" y="828.6" font-size="12.5" font-weight="bold" fill="#e0625c" text-anchor="middle" textLength="144" lengthAdjust="spacingAndGlyphs">+ 100-200% Super Power</text>
<text x="1348" y="884.6" font-size="12.5" font-weight="bold" fill="#e0625c" textLength="101" lengthAdjust="spacingAndGlyphs">+ 20% Investment</text>
<text x="982.3" y="901" font-size="12.5" font-weight="bold" fill="#17364c" textLength="139" lengthAdjust="spacingAndGlyphs">Energy California (TWh)</text>

<rect x="983.7" y="907.4" width="125.9" height="30.1" fill="#17344a"/>
<path d="M1109.6,907.4 H1223.8 V900.2 L1242.1,922.5 L1223.8,944.7 V937.5 H1109.6 Z" fill="#df716b"/>
<rect x="983.7" y="948.4" width="125.9" height="29.8" fill="#17344a"/>
<path d="M1109.6,948.4 H1323.1 V940.9 L1341.4,963.3 L1323.1,986 V978.2 H1109.6 Z" fill="#df716b"/>
<g font-size="11.5" font-weight="bold" fill="#ffffff" text-anchor="middle">
<text x="1042" y="926.5" textLength="77.6" lengthAdjust="spacingAndGlyphs">Existing Demand</text>
<text x="1170" y="926.5" textLength="57" lengthAdjust="spacingAndGlyphs">Lowest Cost</text>
<text x="1042" y="967.2" textLength="77.6" lengthAdjust="spacingAndGlyphs">Existing Demand</text>
<text x="1215" y="967.2" textLength="80.4" lengthAdjust="spacingAndGlyphs">+ 20% Investment</text>
</g>
<use href="#shield" xlink:href="#shield" x="1265" y="903" width="45" height="40"/>

<rect x="983.7" y="988.2" width="124.9" height="40.4" fill="#4db3da"/>
<rect x="1108.6" y="988.2" width="100.7" height="40.4" fill="#7bc3e3"/>
<rect x="1209.3" y="988.2" width="54.2" height="40.4" fill="#9fd1ea"/>
<rect x="1263.5" y="988.2" width="40" height="40.4" fill="#c0e1f2"/>
<rect x="1303.5" y="988.2" width="152.5" height="40.4" fill="#deeef8"/>
<g font-size="10" font-weight="bold" fill="#17364c">
<text x="988.5" y="1000.5" textLength="62.5" lengthAdjust="spacingAndGlyphs">Electric Power</text><text x="988.5" y="1010.8" textLength="28.6" lengthAdjust="spacingAndGlyphs">Sector</text><text x="988.5" y="1022">285.0</text>
<text x="1114.8" y="1000.5" textLength="63.8" lengthAdjust="spacingAndGlyphs">Transportation</text><text x="1114.8" y="1010.8" textLength="28.6" lengthAdjust="spacingAndGlyphs">Sector</text><text x="1114.8" y="1022">227.5</text>
<text x="1212" y="1000.5" textLength="48.4" lengthAdjust="spacingAndGlyphs">Residential</text><text x="1212" y="1010.8" textLength="28.6" lengthAdjust="spacingAndGlyphs">Sector</text><text x="1212" y="1022">122.1</text>
<text x="1268" y="1000.5" textLength="31" lengthAdjust="spacingAndGlyphs">Comm.</text><text x="1268" y="1010.8" textLength="28.6" lengthAdjust="spacingAndGlyphs">Sector</text><text x="1268" y="1022">90.2</text>
<text x="1309.7" y="1000.5" textLength="39.3" lengthAdjust="spacingAndGlyphs">Industrial</text><text x="1309.7" y="1010.8" textLength="28.6" lengthAdjust="spacingAndGlyphs">Sector</text><text x="1309.7" y="1022">344.6</text>
</g>

<line x1="983.7" y1="1037.9" x2="1473.9" y2="1037.9" stroke="#3a4a55" stroke-width="1.2"/>
<text x="1229.3" y="1058.5" font-size="15" font-weight="bold" fill="#17364c" text-anchor="middle" textLength="371" lengthAdjust="spacingAndGlyphs">Super Power will create new growth opportunities</text>

<!-- icons -->
<g transform="translate(1005,1094.6)">
<polygon points="-17,-8 -9,-16 9,-16 17,-8 0,16" fill="#6fcdf4"/>
<polygon points="-17,-8 17,-8 0,16" fill="#4fbdea"/>
<polygon points="-6,-8 6,-8 0,16" fill="#8fdcf8"/>
<polygon points="-9,-16 0,-8 9,-16" fill="#a9e6fb"/>
</g>
<g transform="translate(1061,1094.6)">
<polygon points="-9,-12 0,-17 9,-12 9,13 0,18 -9,13" fill="#6d8db0"/>
<polygon points="0,-7 9,-12 9,13 0,18" fill="#3f5f82"/>
<polygon points="-9,-12 0,-17 9,-12 0,-7" fill="#3c4148"/>
<path d="M-8,-9 L-1,-5 M-8,-3 L-1,1 M-8,3 L-1,7 M-8,9 L-1,13" stroke="#a9c0d6" stroke-width="1"/>
</g>
<g transform="translate(1117,1094.6)">
<ellipse cx="4" cy="12" rx="10" ry="5" fill="#d38a1c"/>
<rect x="-6" y="-12" width="20" height="24" fill="#e9a12a"/>
<ellipse cx="4" cy="-12" rx="10" ry="5" fill="#f6c453"/>
<path d="M-6,-5h20M-6,1h20M-6,7h20" stroke="#c77f17" stroke-width="1"/>
<path d="M-15,-6 L-8,-10 L-1,-6 L-1,4 Q-8,13 -15,4 Z" fill="#d9534f"/>
<path d="M-12,-4 L-8,-6.5 L-4,-4 L-4,3 Q-8,8 -12,3 Z" fill="#f3c6a0"/>
</g>
<g transform="translate(1173,1094.6)">
<path d="M-8,8 L-11,18 M8,8 L11,18" stroke="#777" stroke-width="2"/>
<rect x="-11" y="-14" width="22" height="25" rx="5" fill="#9a9a9a"/>
<rect x="-7" y="-6" width="14" height="14" rx="2" fill="#f2a72e"/>
<rect x="-7" y="-11" width="14" height="4" fill="#333"/>
<rect x="-3" y="-18" width="6" height="5" fill="#888"/>
<circle cx="8.5" cy="-6" r="0.9" fill="#ddd"/><circle cx="8.5" cy="-2" r="0.9" fill="#ddd"/><circle cx="8.5" cy="2" r="0.9" fill="#ddd"/>
</g>
<g transform="translate(1229,1094.6)">
<polygon points="-16,10 10,10 16,16 -10,16" fill="#8d9296"/>
<polygon points="-14,7 8,7 12,11 -10,11" fill="#b8bdc1"/>
<path d="M0,-6 Q-3,2 -4,9" stroke="#f2a72e" stroke-width="4" fill="none"/>
<ellipse cx="-3" cy="9" rx="6" ry="2.3" fill="#f2a72e"/>
<circle cx="8" cy="-8" r="9" fill="#767b80"/>
<ellipse cx="4.5" cy="-8" rx="5" ry="7" fill="#f5b43a"/>
<path d="M-16,-15 L-2,-10" stroke="#9aa0a5" stroke-width="3"/>
<circle cx="-8" cy="-4" r="1.2" fill="#f2a72e"/><circle cx="-11" cy="0" r="1" fill="#f2a72e"/>
</g>
<g transform="translate(1285,1094.6)">
<path d="M-5,-13 L4,-13 L10,-3" stroke="#8cc63f" stroke-width="5.5" fill="none"/>
<polygon points="6,-1 15,-5 14,4" fill="#8cc63f"/>
<path d="M13,4 L8,13 L-3,13" stroke="#3fa34d" stroke-width="5.5" fill="none"/>
<polygon points="-1,8 -9,13 -1,18" fill="#3fa34d"/>
<path d="M-9,11 L-15,2 L-10,-7" stroke="#6cb94a" stroke-width="5.5" fill="none"/>
<polygon points="-14,-6 -6,-12 -5,-3" fill="#6cb94a"/>
</g>
<g transform="translate(1341,1094.6)">
<rect x="-12" y="-8" width="20" height="8" rx="2" fill="#c8d2d8"/>
<rect x="-15" y="-10" width="3.5" height="12" fill="#aab6bd"/>
<path d="M4,-8 h6 q4,0 4,4 v6 h-6 v-3 q0,-1 -1,-1 h-3z" fill="#b5c1c7"/>
<rect x="-2" y="-16" width="3" height="8" fill="#9aa6ad"/><rect x="-6" y="-17.5" width="11" height="2.5" fill="#9aa6ad"/>
<path d="M11,7 Q6,13 11,16.5 Q16,13 11,7Z" fill="#3a8fd9"/>
</g>
<g transform="translate(1397,1094.6)">
<rect x="-18" y="-8" width="36" height="3" fill="#b9c3ca"/>
<rect x="-14" y="-14" width="28" height="27" rx="3" fill="#f0a33b"/>
<path d="M-8.5,-14V13M-3,-14V13M2.5,-14V13M8,-14V13" stroke="#d88a22" stroke-width="1.3"/>
<rect x="-19" y="3" width="4" height="5" fill="#c9d0d4"/><circle cx="-17" cy="2" r="2" fill="#e0413a"/>
</g>
<g transform="translate(1453,1094.6)">
<path d="M-17,9 L-17,0 Q-15,-4 -10,-5 L-6,-11 Q-4,-13 0,-13 L8,-13 Q12,-13 14,-9 L17,-3 L17,9 Z" fill="#8cc63f"/>
<path d="M-5,-10 L-2,-5 L8,-5 L11,-9 Q10,-11 8,-11 L0,-11Z" fill="#bde3f5"/>
<circle cx="-10" cy="9" r="4.5" fill="#444"/><circle cx="-10" cy="9" r="1.8" fill="#999"/>
<circle cx="10" cy="9" r="4.5" fill="#444"/><circle cx="10" cy="9" r="1.8" fill="#999"/>
<path d="M4,-13 Q6,-19 12,-19 L15,-19" stroke="#8cc63f" stroke-width="1.5" fill="none"/>
<rect x="15" y="-21" width="4" height="4" fill="#666"/>
</g>

<!-- footer -->
<text x="63.4" y="1164.5" font-size="15" fill="#1d2f3d"><tspan>Rethink</tspan><tspan fill="#e0625c">Energy</tspan></text>
<text x="1389.7" y="1164.5" font-size="15" fill="#1d2f3d"><tspan>Rethink</tspan><tspan fill="#e0625c">X</tspan></text>
<path d="M1466,1151 L1473,1158.5 L1466,1166 M1469,1151 L1476,1158.5 L1469,1166" fill="none" stroke="#e0625c" stroke-width="1.2"/>
<text x="1500" y="1164.5" font-size="15" font-weight="bold" fill="#1d2f3d" text-anchor="middle">8</text>
</svg>
</body></html>
